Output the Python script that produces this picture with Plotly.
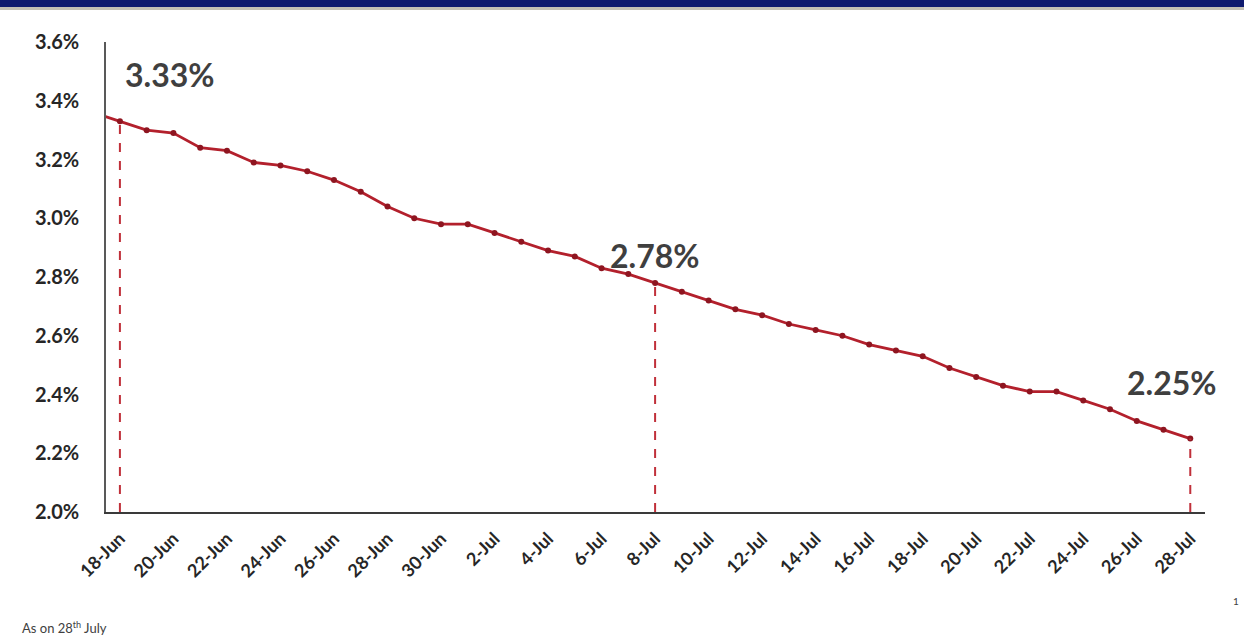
import pandas as pd
import plotly.graph_objects as go

# ---- data ----
start_date = "2021-06-18"
end_date = "2021-07-28"
lead_in_date = "2021-06-17"      # point off the left edge (line enters from the axis)
lead_in_value = 3.36
values = [3.33, 3.30, 3.29, 3.24, 3.23, 3.19, 3.18, 3.16, 3.13, 3.09,
          3.04, 3.00, 2.98, 2.98, 2.95, 2.92, 2.89, 2.87, 2.83, 2.81,
          2.78, 2.75, 2.72, 2.69, 2.67, 2.64, 2.62, 2.60, 2.57, 2.55,
          2.53, 2.49, 2.46, 2.43, 2.41, 2.41, 2.38, 2.35, 2.31, 2.28,
          2.25]
highlight_idx = [0, 20, 40]
highlight_labels = ["3.33%", "2.78%", "2.25%"]
y_ticks = [2.0, 2.2, 2.4, 2.6, 2.8, 3.0, 3.2, 3.4, 3.6]
y_tick_labels = ["2.0%", "2.2%", "2.4%", "2.6%", "2.8%", "3.0%", "3.2%", "3.4%", "3.6%"]
footnote = "As on 28<sup>th</sup> July"
page_number = "1"

dates = pd.date_range(start_date, end_date, freq="D")

LINE = "#B3202C"
MARK = "#8E1520"
TXT = "#262626"

fig = go.Figure()

# lead-in segment clipped by the axis
fig.add_trace(go.Scatter(
    x=[pd.Timestamp(lead_in_date), dates[0]], y=[lead_in_value, values[0]],
    mode="lines", line=dict(color=LINE, width=2.8), hoverinfo="skip", showlegend=False))

fig.add_trace(go.Scatter(
    x=dates, y=values, mode="lines+markers",
    line=dict(color=LINE, width=2.8),
    marker=dict(color=MARK, size=6),
    showlegend=False))

# dashed drop lines
for i in highlight_idx:
    fig.add_trace(go.Scatter(
        x=[dates[i], dates[i]], y=[y_ticks[0], values[i]], mode="lines",
        line=dict(color="#C0303A", width=2, dash="dash"),
        hoverinfo="skip", showlegend=False))

offsets = [(50, 47), (0, 27), (-18, 56)]
for i, lab, (dx, dy) in zip(highlight_idx, highlight_labels, offsets):
    fig.add_annotation(x=dates[i], y=values[i], text=lab, showarrow=False,
                       xshift=dx, yshift=dy,
                       font=dict(family="Lato", size=32, color="#3F3F3F", weight=700))

day = pd.Timedelta(days=1)
fig.update_xaxes(
    range=[dates[0] - 0.52 * day, dates[-1] + 0.55 * day],
    tickmode="linear", tick0=dates[0], dtick=2 * 86400000,
    tickformat="%-d-%b", tickangle=-45,
    tickfont=dict(family="Lato", size=18, color=TXT, weight=700),
    showgrid=False, zeroline=False,
    showline=True, linecolor="#3A3A3A", linewidth=2, ticks="",
    ticklabelstandoff=7,
)
fig.update_yaxes(
    range=[2.0, 3.6], tickmode="array", tickvals=y_ticks, ticktext=y_tick_labels,
    tickfont=dict(family="Lato", size=20, color=TXT, weight=700),
    showgrid=False, zeroline=False,
    showline=True, linecolor="#595959", linewidth=1.5, ticks="",
    ticklabelstandoff=21,
)

# top navy band with shadow
fig.add_shape(type="rect", xref="paper", yref="paper",
              x0=-0.1, x1=1.04, y0=1.0745, y1=1.095,
              fillcolor="#0F1A6E", line_width=0, layer="above")
fig.add_shape(type="rect", xref="paper", yref="paper",
              x0=-0.1, x1=1.04, y0=1.068, y1=1.0745,
              fillcolor="#C4C0B4", line_width=0, layer="above")

fig.add_annotation(xref="paper", yref="paper", x=-0.078, y=-0.246,
                   xanchor="left", yanchor="middle", text=footnote, showarrow=False,
                   font=dict(family="Lato", size=13, color="#404040"))
fig.add_annotation(xref="paper", yref="paper", x=1.0285, y=-0.19,
                   xanchor="center", yanchor="middle", text=page_number, showarrow=False,
                   font=dict(family="Lato", size=10, color="#404040"))

fig.update_layout(
    width=1244, height=639,
    margin=dict(l=106, r=39, t=42, b=127),
    plot_bgcolor="white", paper_bgcolor="white",
)

fig.write_html("out.html", config={"displayModeBar": False},
               post_script="document.body.style.margin='0';document.body.style.overflow='hidden';")
